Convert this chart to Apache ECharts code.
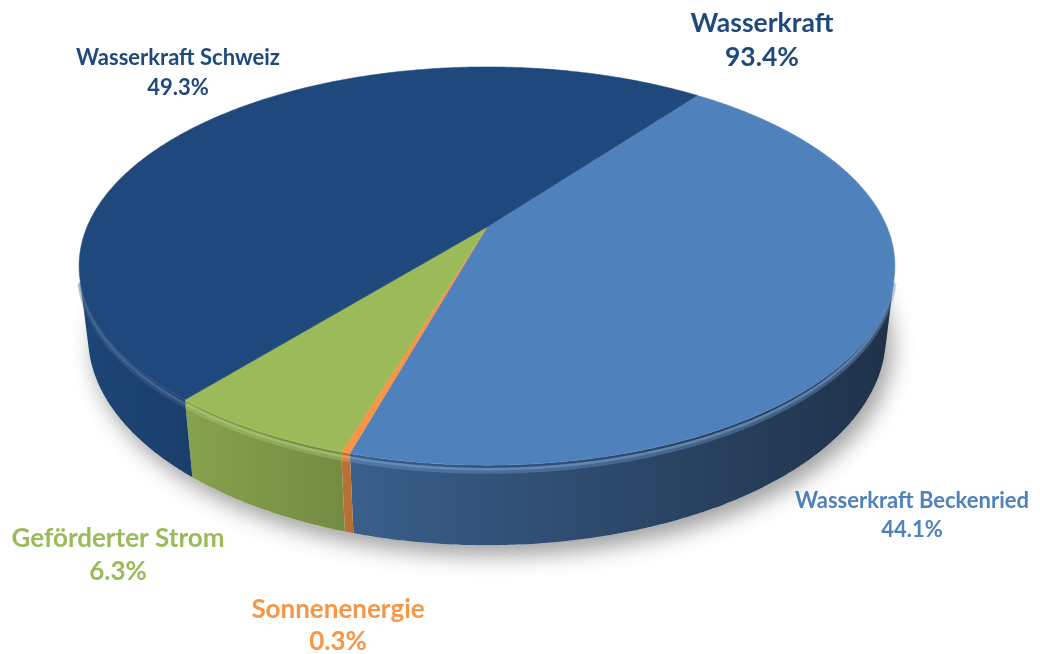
<!DOCTYPE html>
<html>
<head>
<meta charset="utf-8">
<script src="https://cdn.jsdelivr.net/npm/echarts@6.0.0/dist/echarts.min.js"></script>
<style>
  html, body { margin: 0; padding: 0; background: #fff; }
  #chart { width: 1040px; height: 654px; }
</style>
</head>
<body>
<div id="chart"></div>
<script>
// slices, clockwise from the upper right edge
var sliceNames = ['Wasserkraft Beckenried', 'Sonnenenergie', 'Geförderter Strom', 'Wasserkraft Schweiz'];
var sliceValues = [44.1, 0.3, 6.3, 49.3];
var sliceColors = ['#4F81BD', '#F79646', '#9BBB59', '#1F497D'];
// summary label over both hydro slices
var groupName = 'Wasserkraft';
var groupMembers = ['Wasserkraft Schweiz', 'Wasserkraft Beckenried'];

// label placement (centre of name line / percent line)
var labelLayout = [
    { x: 912, y: 501, gap: 29, size: 22 },
    { x: 338, y: 610, gap: 32, size: 26 },
    { x: 118, y: 539, gap: 33, size: 26 },
    { x: 178, y: 58, gap: 30, size: 22 }
];
var groupLayout = { x: 762, y: 23, gap: 34, size: 26.5 };

// camera for the tilted disc
var cx = 487, cy = 227, focal = 1792, dist = 4.48, thick = 0.203, startDeg = -52.6;
var elev = 28.6 * Math.PI / 180;
var sinE = Math.sin(elev), cosE = Math.cos(elev);
var visMin = Math.asin(1 / (dist * cosE)) * 180 / Math.PI;
var visMax = 180 - visMin;

function project(deg, y) {
    var t = deg * Math.PI / 180;
    var X = Math.cos(t), Z = Math.sin(t);
    var u = y * cosE - Z * sinE;
    var w = dist - Z * cosE - y * sinE;
    return [cx + focal * X / w, cy - focal * u / w];
}

var total = sliceValues.reduce(function (a, b) { return a + b; }, 0);
var ranges = [];
(function () {
    var a = startDeg;
    for (var i = 0; i < sliceValues.length; i++) {
        var b = a + sliceValues[i] / total * 360;
        ranges.push([a, b]);
        a = b;
    }
})();

function shade(hex, f) {
    var n = parseInt(hex.slice(1), 16);
    var r = (n >> 16) & 255, g = (n >> 8) & 255, b = n & 255;
    function m(v) { return f <= 1 ? Math.round(v * f) : Math.round(v + (255 - v) * (f - 1)); }
    return 'rgb(' + m(r) + ',' + m(g) + ',' + m(b) + ')';
}

function arc(a, b, y) {
    var pts = [];
    var step = 0.5;
    for (var t = a; t < b; t += step) pts.push(project(t, y));
    pts.push(project(b, y));
    return pts;
}

function renderShadow() {
    var pts = arc(0, 360, -thick);
    return {
        type: 'polygon',
        shape: { points: pts },
        style: {
            fill: '#fff',
            shadowBlur: 22,
            shadowColor: 'rgba(0,0,0,0.38)',
            shadowOffsetX: 6,
            shadowOffsetY: 10
        }
    };
}

function renderSide(params, api) {
    var i = params.dataIndex;
    var lo = Math.max(ranges[i][0], visMin);
    var hi = Math.min(ranges[i][1], visMax);
    if (hi <= lo) return null;
    var top = arc(lo, hi, 0);
    var bottom = arc(lo, hi, -thick).reverse();
    var base = sliceColors[i];
    return {
        type: 'group',
        children: [{
            type: 'polygon',
            shape: { points: top.concat(bottom) },
            style: {
                fill: {
                    type: 'linear', x: cx - 415, y: 0, x2: cx + 415, y2: 0, global: true,
                    colorStops: [
                        { offset: 0, color: shade(base, 0.95) },
                        { offset: 0.4, color: shade(base, 0.7) },
                        { offset: 1, color: shade(base, 0.38) }
                    ]
                },
                stroke: null
            }
        }, {
            type: 'polyline',
            shape: { points: arc(lo, hi, -0.014) },
            style: { stroke: shade(base, 1.18), lineWidth: 6, opacity: 0.4, fill: null }
        }, {
            type: 'polyline',
            shape: { points: arc(lo, hi, -0.01) },
            style: { stroke: shade(base, 1.25), lineWidth: 2.5, opacity: 0.5, fill: null }
        }]
    };
}

function renderTop(params, api) {
    var i = params.dataIndex;
    var pts = [[cx, cy]].concat(arc(ranges[i][0], ranges[i][1], 0));
    return {
        type: 'polygon',
        shape: { points: pts },
        style: { fill: sliceColors[i], stroke: sliceColors[i], lineWidth: 0.5 }
    };
}

function labelTexts() {
    var els = [];
    var font = 'Lato, "Open Sans", sans-serif';
    function add(name, pct, lay, color) {
        els.push({
            type: 'text', x: lay.x, y: lay.y,
            style: { text: name, fill: color, fontFamily: font, fontWeight: 'bold', fontSize: lay.size, align: 'center', verticalAlign: 'middle' }
        });
        els.push({
            type: 'text', x: lay.x, y: lay.y + lay.gap,
            style: { text: pct, fill: color, fontFamily: font, fontWeight: 'bold', fontSize: lay.size, align: 'center', verticalAlign: 'middle' }
        });
    }
    for (var i = 0; i < sliceNames.length; i++) {
        add(sliceNames[i], (sliceValues[i] / total * 100).toFixed(1) + '%', labelLayout[i], sliceColors[i]);
    }
    var groupSum = 0;
    groupMembers.forEach(function (n) { groupSum += sliceValues[sliceNames.indexOf(n)]; });
    add(groupName, (groupSum / total * 100).toFixed(1) + '%', groupLayout, '#1F497D');
    return els;
}

var myChart = echarts.init(document.getElementById('chart'), null, { renderer: 'canvas' });

var option = {
    backgroundColor: '#fff',
    animation: false,
    graphic: labelTexts(),
    series: [
        {
            type: 'custom', name: 'shadow', coordinateSystem: 'none', silent: true, z: 1,
            data: [total], renderItem: renderShadow
        },
        {
            type: 'custom', name: 'side', coordinateSystem: 'none', silent: true, z: 2,
            data: sliceValues, renderItem: renderSide
        },
        {
            type: 'custom', name: 'top', coordinateSystem: 'none', silent: true, z: 3,
            data: sliceValues, renderItem: renderTop
        }
    ]
};

myChart.setOption(option);
</script>
</body>
</html>
